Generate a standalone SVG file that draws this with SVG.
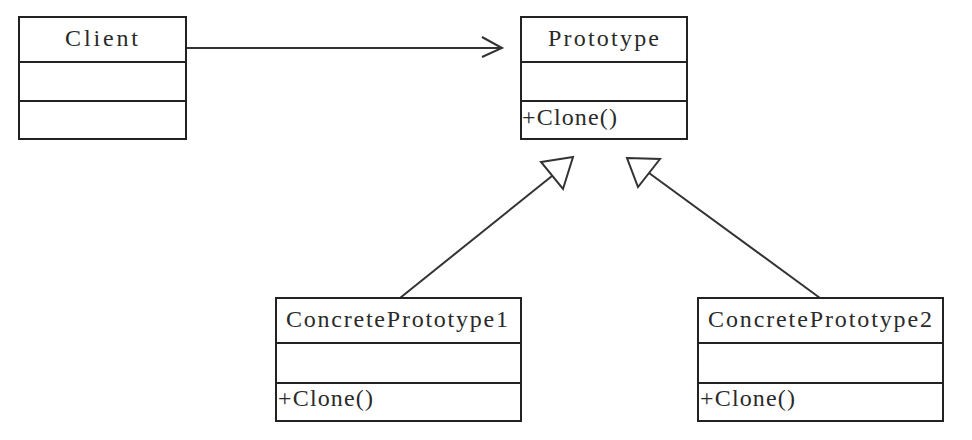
<svg xmlns="http://www.w3.org/2000/svg" width="972" height="440" viewBox="0 0 972 440">
<style>
.box{fill:#fff;stroke:#222;stroke-width:2}
.div{stroke:#222;stroke-width:2}
.t{font-family:"Liberation Serif","DejaVu Serif",serif;font-size:24px;fill:#2a2a2a}
.conn{stroke:#333;stroke-width:2;fill:none}
.tri{stroke:#333;stroke-width:2;fill:#fff;stroke-linejoin:miter}
</style>
<rect width="972" height="440" fill="#fff"/>
<g id="connectors">
<line class="conn" x1="186" y1="48" x2="502" y2="48"/>
<polyline class="conn" points="482,37 502,48 482,57"/>
<line class="conn" x1="400" y1="298" x2="552" y2="176"/>
<polygon class="tri" points="541,162 573,157 563,189"/>
<line class="conn" x1="820" y1="298" x2="649" y2="173"/>
<polygon class="tri" points="627,158 660,159 638,187"/>
</g>
<g id="client">
<rect class="box" x="19" y="17" width="167" height="122"/>
<line class="div" x1="19" y1="62" x2="186" y2="62"/>
<line class="div" x1="19" y1="101" x2="186" y2="101"/>
<text class="t" x="65" y="46" textLength="73" lengthAdjust="spacing">Client</text>
</g>
<g id="prototype">
<rect class="box" x="521" y="17" width="166" height="122"/>
<line class="div" x1="521" y1="62" x2="687" y2="62"/>
<line class="div" x1="521" y1="101" x2="687" y2="101"/>
<text class="t" x="548" y="46" textLength="111" lengthAdjust="spacing">Prototype</text>
<text class="t" x="522" y="125" textLength="95" lengthAdjust="spacing">+Clone()</text>
</g>
<g id="concrete1">
<rect class="box" x="276" y="298" width="245" height="123"/>
<line class="div" x1="276" y1="343" x2="521" y2="343"/>
<line class="div" x1="276" y1="383" x2="521" y2="383"/>
<text class="t" x="286" y="327" textLength="222" lengthAdjust="spacing">ConcretePrototype1</text>
<text class="t" x="278" y="406" textLength="95" lengthAdjust="spacing">+Clone()</text>
</g>
<g id="concrete2">
<rect class="box" x="698" y="298" width="245" height="123"/>
<line class="div" x1="698" y1="343" x2="943" y2="343"/>
<line class="div" x1="698" y1="383" x2="943" y2="383"/>
<text class="t" x="708" y="327" textLength="224" lengthAdjust="spacing">ConcretePrototype2</text>
<text class="t" x="700" y="406" textLength="95" lengthAdjust="spacing">+Clone()</text>
</g>
</svg>
